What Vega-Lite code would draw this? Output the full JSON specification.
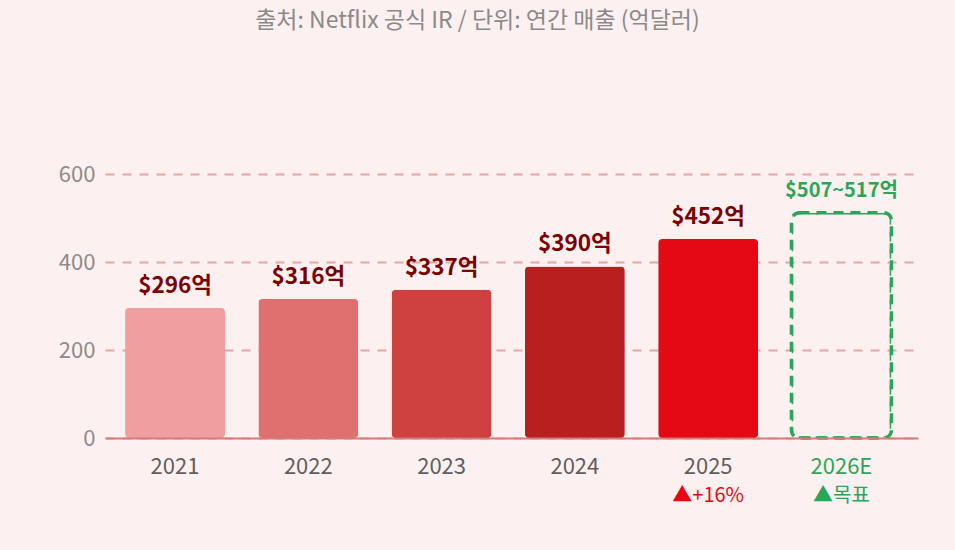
{
  "$schema": "https://vega.github.io/schema/vega-lite/v6.json",
  "width": 813,
  "height": 264,
  "autosize": "none",
  "padding": {"left": 105, "top": 174, "right": 37, "bottom": 112},
  "background": "#fdf0f0",
  "config": {"font": "Noto Sans CJK KR", "view": {"stroke": null}},
  "title": {
    "text": "출처: Netflix 공식 IR / 단위: 연간 매출 (억달러)",
    "fontSize": 23,
    "fontWeight": "normal",
    "color": "#8a8a8a",
    "anchor": "middle",
    "dx": -34,
    "offset": 130
  },
  "data": {
    "values": [
      {"year": "2021", "value": 296, "label": "$296억", "sub": ""},
      {"year": "2022", "value": 316, "label": "$316억", "sub": ""},
      {"year": "2023", "value": 337, "label": "$337억", "sub": ""},
      {"year": "2024", "value": 390, "label": "$390억", "sub": ""},
      {"year": "2025", "value": 452, "label": "$452억", "sub": "▲+16%"},
      {"year": "2026E", "value": 512, "label": "$507~517억", "sub": "▲목표"}
    ]
  },
  "encoding": {
    "x": {
      "field": "year",
      "type": "nominal",
      "sort": null,
      "scale": {"paddingInner": 0.25, "paddingOuter": 0.175, "align": 0.43},
      "axis": {
        "title": null,
        "labelAngle": 0,
        "labelFontSize": 22,
        "labelPadding": 18,
        "labelColor": {"expr": "datum.value === '2026E' ? '#2aa65a' : '#5f5f5f'"},
        "ticks": false,
        "domainColor": "#d47b7b",
        "domainWidth": 2,
        "zindex": 1
      }
    }
  },
  "layer": [
    {
      "transform": [{"filter": "datum.year !== '2026E'"}],
      "mark": {"type": "bar", "cornerRadius": 4},
      "encoding": {
        "y": {
          "field": "value",
          "type": "quantitative",
          "scale": {"domain": [0, 600]},
          "axis": {
            "title": null,
            "values": [0, 200, 400, 600],
            "grid": true,
            "gridDash": [9, 8],
            "gridColor": "#e6a4a4",
            "gridWidth": 2,
            "labelFontSize": 22,
            "labelColor": "#8c8c8c",
            "labelPadding": 10,
            "domain": false,
            "ticks": false
          }
        },
        "color": {
          "field": "year",
          "type": "nominal",
          "scale": {
            "domain": ["2021", "2022", "2023", "2024", "2025"],
            "range": ["#f09e9e", "#e07070", "#cf4040", "#b82020", "#e50914"]
          },
          "legend": null
        }
      }
    },
    {
      "transform": [{"filter": "datum.year === '2026E'"}],
      "mark": {
        "type": "bar",
        "fill": null,
        "filled": false,
        "stroke": "#2aa65a",
        "strokeWidth": 3.5,
        "strokeDash": [10, 7],
        "cornerRadius": 8
      },
      "encoding": {
        "y": {"field": "value", "type": "quantitative"}
      }
    },
    {
      "mark": {"type": "text", "fontWeight": "bold", "dy": -22},
      "encoding": {
        "y": {"field": "value", "type": "quantitative"},
        "text": {"field": "label"},
        "size": {
          "condition": {"test": "datum.year === '2026E'", "value": 20},
          "value": 22.5
        },
        "color": {
          "condition": {"test": "datum.year === '2026E'", "value": "#2aa65a"},
          "value": "#7a0000"
        }
      }
    },
    {
      "mark": {"type": "text", "fontSize": 20, "dy": 58},
      "encoding": {
        "y": {"datum": 0},
        "text": {"field": "sub"},
        "color": {
          "condition": {"test": "datum.year === '2026E'", "value": "#2aa65a"},
          "value": "#e50914"
        }
      }
    }
  ]
}
